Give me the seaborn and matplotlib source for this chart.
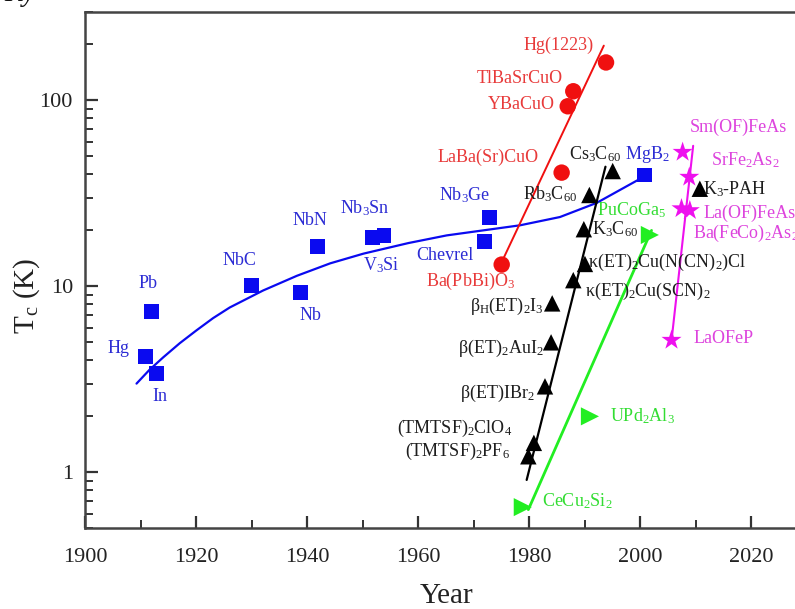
# Tc vs year of discovery for different superconductor families
import matplotlib
matplotlib.use("Agg")
import matplotlib.pyplot as plt
import seaborn as sns
from matplotlib.ticker import LogLocator, FixedLocator, FuncFormatter, MultipleLocator, NullFormatter

# conventional (blue squares)
conv_names = ["Hg", "Pb", "In", "NbC", "Nb", "NbN", "Nb$_3$Sn", "V$_3$Si", "Nb$_3$Ge", "Chevrel", "MgB$_2$"]
conv_year = [1910.8, 1911.9, 1912.8, 1929.9, 1938.8, 1941.8, 1951.7, 1953.8, 1972.8, 1971.9, 2000.8]
conv_tc = [4.2, 7.3, 3.4, 10.1, 9.3, 16.3, 18.4, 18.7, 23.4, 17.4, 39.7]
conv_fit_year = [1909.2, 1911.5, 1914.0, 1917.0, 1920.0, 1923.0, 1926.0, 1932.0, 1938.1, 1944.1,
                 1950.1, 1958.2, 1965.1, 1978.3, 1985.5, 1992.1, 2000.5]
conv_fit_tc = [3.0, 3.55, 4.15, 4.95, 5.8, 6.75, 7.7, 9.5, 11.4, 13.3,
               15.0, 17.1, 18.8, 21.3, 23.6, 28.1, 38.7]

# cuprates (red circles)
cup_names = ["Ba(PbBi)O$_3$", "LaBa(Sr)CuO", "YBaCuO", "TlBaSrCuO", "Hg(1223)"]
cup_year = [1975.0, 1985.8, 1986.9, 1987.9, 1993.8]
cup_tc = [13.1, 40.9, 93.0, 112.0, 160.0]
cup_fit_year = [1975.0, 1993.4]
cup_fit_tc = [13.5, 197.0]

# organics / fullerides (black triangles)
org_names = ["(TMTSF)$_2$PF$_6$", "(TMTSF)$_2$ClO$_4$", "β(ET)IBr$_2$", "β(ET)$_2$AuI$_2$",
             "β$_{\\mathrm{H}}$(ET)$_2$I$_3$", "κ(ET)$_2$Cu(SCN)$_2$", "κ(ET)$_2$Cu(N(CN)$_2$)Cl",
             "K$_3$C$_{60}$", "Rb$_3$C$_{60}$", "Cs$_3$C$_{60}$", "K$_3$-PAH"]
org_year = [1979.8, 1980.8, 1982.8, 1983.9, 1984.1, 1987.9, 1990.0, 1989.8, 1990.8, 1995.0, 2010.7]
org_tc = [1.22, 1.44, 2.9, 5.0, 8.1, 10.8, 13.2, 20.3, 31.0, 41.7, 33.5]
org_fit_year = [1979.5, 1993.7]
org_fit_tc = [0.91, 44.0]

# heavy fermions (green triangles)
hf_names = ["CeCu$_2$Si$_2$", "UPd$_2$Al$_3$", "PuCoGa$_5$"]
hf_year = [1978.8, 1990.9, 2001.7]
hf_tc = [0.65, 2.0, 18.9]
hf_fit_year = [1979.8, 2002.0]
hf_fit_tc = [0.63, 20.0]

# iron based (magenta stars)
fe_names = ["Sm(OF)FeAs", "SrFe$_2$As$_2$", "La(OF)FeAs", "Ba(FeCo)$_2$As$_2$", "LaOFeP"]
fe_year = [2007.6, 2008.8, 2007.4, 2008.9, 2005.6]
fe_tc = [52.7, 38.7, 26.2, 25.6, 5.14]
fe_fit_year = [2009.5, 2005.6]
fe_fit_tc = [57.0, 5.1]

# label anchor positions (year, Tc, alignment)
conv_lab = [(1905.9, 4.64, "center"), (1911.3, 10.4, "center"), (1913.4, 2.55, "center"),
            (1927.8, 13.8, "center"), (1940.5, 7.0, "center"), (1940.5, 22.7, "center"),
            (1950.4, 26.2, "center"), (1953.3, 13.0, "center"), (1968.4, 30.9, "center"),
            (1964.8, 14.7, "center"), (2001.2, 51.3, "center")]
cup_lab = [(1969.3, 10.6, "center"), (1972.6, 49.6, "center"), (1978.6, 95.0, "center"),
           (1978.3, 130.6, "center"), (1985.2, 197.0, "center")]
org_lab = [(1967.0, 1.29, "center"), (1966.6, 1.73, "center"), (1974.3, 2.67, "center"),
           (1974.9, 4.66, "center"), (1975.9, 7.76, "center"), (2001.3, 9.43, "center"),
           (2004.9, 13.5, "center"), (1995.4, 20.3, "center"), (1983.8, 31.5, "center"),
           (1991.9, 51.3, "center"), (2017.0, 33.5, "center")]
hf_lab = [(1988.7, 0.70, "center"), (2000.4, 2.01, "center"), (1998.3, 25.6, "center")]
fe_lab = [(2008.9, 71.8, "left"), (2012.8, 48.0, "left"), (2011.3, 24.6, "left"),
          (2009.5, 19.2, "left"), (2009.5, 5.27, "left")]

sns.set_theme(style="ticks")
plt.rcParams["font.family"] = ["Liberation Serif", "DejaVu Serif"]
plt.rcParams["mathtext.fontset"] = "custom"
plt.rcParams["mathtext.rm"] = "Liberation Serif"
plt.rcParams["mathtext.it"] = "Liberation Serif:italic"

fig = plt.figure(figsize=(7.95, 6.09), dpi=100)
ax = fig.add_axes([0.1075, 0.1325, 0.9075, 0.8483])
ax.set_yscale("log")

groups = [
    (conv_year, conv_tc, conv_fit_year, conv_fit_tc, conv_names, conv_lab, "#0a0af0", "#2c2cd4", "s", 115, 1.6),
    (cup_year, cup_tc, cup_fit_year, cup_fit_tc, cup_names, cup_lab, "#f01010", "#e83a3a", "o", 140, 1.4),
    (org_year, org_tc, org_fit_year, org_fit_tc, org_names, org_lab, "#000000", "#1e1e1e", "^", 140, 1.6),
    (hf_year, hf_tc, hf_fit_year, hf_fit_tc, hf_names, hf_lab, "#22ee22", "#33dd33", ">", 170, 2.0),
    (fe_year, fe_tc, fe_fit_year, fe_fit_tc, fe_names, fe_lab, "#ee10ee", "#dd44dd", "*", 230, 1.5),
]

for yr, tc, fy, ft, names, labs, col, tcol, mk, sz, lw in groups:
    sns.lineplot(x=fy, y=ft, sort=False, estimator=None, color=col, lw=lw, ax=ax)
    sns.scatterplot(x=yr, y=tc, marker=mk, color=col, s=sz, edgecolor="none", ax=ax, zorder=3)
    for name, (lx, ly, ha) in zip(names, labs):
        ax.text(lx, ly, name, color=tcol, fontsize=13, ha=ha, va="center")

ax.set_xlim(1900, 2030)
ax.set_ylim(0.5, 300)
ax.xaxis.set_major_locator(MultipleLocator(20))
ax.xaxis.set_minor_locator(MultipleLocator(10))
ax.yaxis.set_major_locator(FixedLocator([1, 10, 100]))
ax.yaxis.set_minor_locator(LogLocator(base=10, subs=range(2, 10)))
ax.yaxis.set_major_formatter(FuncFormatter(lambda v, p: "%g" % v))
ax.yaxis.set_minor_formatter(NullFormatter())

ax.tick_params(which="both", direction="in", top=False, right=False, color="#333333",
               labelsize=16, labelcolor="#222222")
ax.tick_params(which="major", length=9, width=1.6)
ax.tick_params(which="minor", length=6, width=1.4)
ax.tick_params(axis="x", pad=14)
ax.tick_params(axis="y", pad=9)

for side in ["left", "bottom", "top"]:
    ax.spines[side].set_color("#444444")
    ax.spines[side].set_linewidth(1.8)
ax.spines["right"].set_visible(False)

ax.set_xlabel("Year", fontsize=21, color="#222222", labelpad=12)
ax.set_ylabel("T$_\\mathrm{c}$ (K)", fontsize=21, color="#222222")
ax.yaxis.set_label_coords(-0.06, 0.45)

# cut-off caption fragment at the top left of the source image
fig.text(0.005, 1 - 1 / 609, "Ky", fontsize=20, style="italic", color="#111111",
         ha="left", va="baseline")

fig.savefig("out.png", dpi=100)
